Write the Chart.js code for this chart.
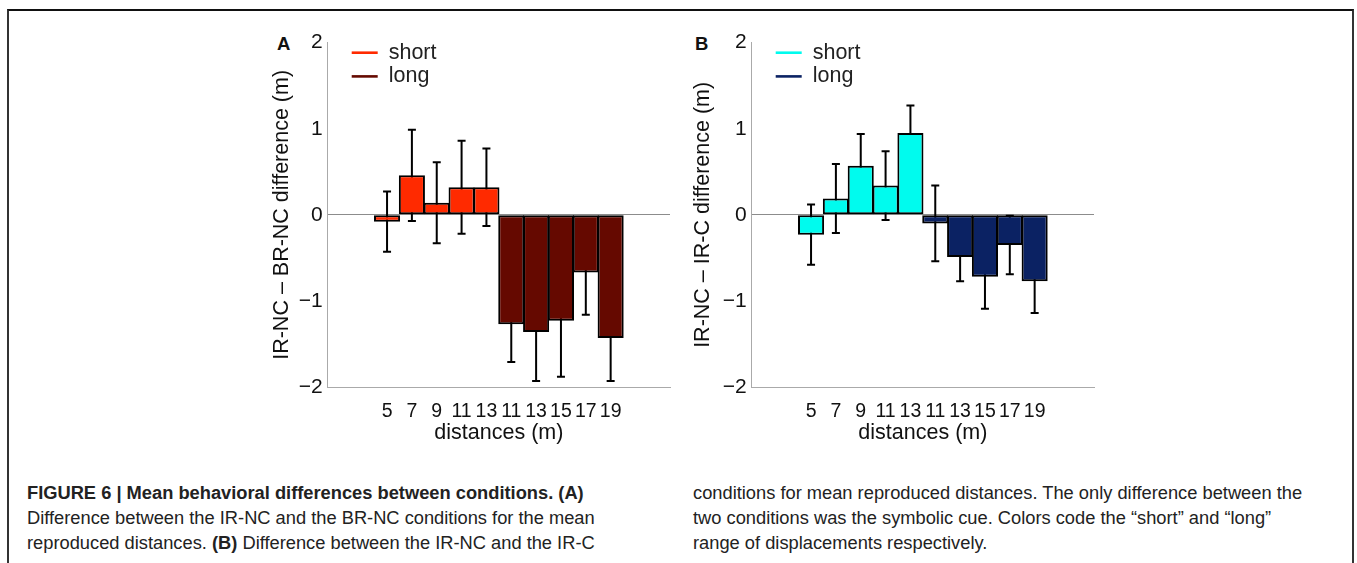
<!DOCTYPE html>
<html>
<head>
<meta charset="utf-8">
<script src="https://cdn.jsdelivr.net/npm/chart.js@4.4.1/dist/chart.umd.min.js"></script>
<style>
  html, body { margin: 0; padding: 0; background: #fff; }
  body { width: 1357px; height: 563px; position: relative; overflow: hidden; font-family: "Liberation Sans", Arial, sans-serif; }
  .frame { position: absolute; left: 7px; top: 9px; width: 1347px; height: 600px; border: 2px solid #333; border-top-color: #111; border-bottom: none; box-sizing: border-box; }
  .panel { position: absolute; top: 20px; width: 450px; height: 440px; }
  .tag { position: absolute; top: 34.6px; font-weight: bold; font-size: 18.5px; line-height: 18.5px; color: #111; }
  .caption { position: absolute; top: 479.6px; font-size: 18.3px; line-height: 25px; color: #222; white-space: nowrap; }
</style>
</head>
<body>
<div class="frame"></div>
<div class="tag" style="left:277px">A</div>
<div class="tag" style="left:695px">B</div>
<div class="panel" style="left:240px"><canvas id="chartA"></canvas></div>
<div class="panel" style="left:664px"><canvas id="chartB"></canvas></div>
<div class="caption" style="left:27px"><b>FIGURE 6 | Mean behavioral differences between conditions. (A)</b><br>Difference between the IR-NC and the BR-NC conditions for the mean<br>reproduced distances. <b>(B)</b> Difference between the IR-NC and the IR-C</div>
<div class="caption" style="left:693px">conditions for mean reproduced distances. The only difference between the<br>two conditions was the symbolic cue. Colors code the “short” and “long”<br>range of displacements respectively.</div>

<script>
// distances (m) shown under the bars
const shortDistances = ['5', '7', '9', '11', '13']
const longDistances = ['11', '13', '15', '17', '19']
const yTickLabels = ['\u22122', '\u22121', '0', '1', '2']

// panel A: IR-NC - BR-NC
const aShortMeans = [-0.08, 0.46, 0.14, 0.32, 0.32]
const aShortErrors = [0.35, 0.53, 0.47, 0.54, 0.45]
const aLongMeans = [-1.27, -1.36, -1.23, -0.67, -1.43]
const aLongErrors = [0.44, 0.57, 0.65, 0.49, 0.50]

// panel B: IR-NC - IR-C
const bShortMeans = [-0.23, 0.19, 0.57, 0.34, 0.95]
const bShortErrors = [0.35, 0.40, 0.37, 0.40, 0.32]
const bLongMeans = [-0.10, -0.49, -0.72, -0.35, -0.77]
const bLongErrors = [0.44, 0.28, 0.37, 0.34, 0.37]

const allDistances = shortDistances.concat(longDistances)
const FONT = '"Liberation Sans", Arial, sans-serif'
const FS = 21.5

// error bars go behind the bars, like the matlab figure
const errorBars = {
    id: 'errorBars',
    beforeDatasetsDraw(chart){
        const ctx = chart.ctx
        const yScale = chart.scales.y
        ctx.save()
        ctx.strokeStyle = '#000'
        ctx.lineWidth = 2
        chart.data.datasets.forEach((ds, di) => {
            chart.getDatasetMeta(di).data.forEach((bar, i) => {
                const v = ds.data[i].y
                const e = ds.errors[i]
                const top = yScale.getPixelForValue(v + e)
                const bot = yScale.getPixelForValue(v - e)
                ctx.beginPath()
                ctx.moveTo(bar.x, top); ctx.lineTo(bar.x, bot)
                ctx.moveTo(bar.x - 4, top); ctx.lineTo(bar.x + 4, top)
                ctx.moveTo(bar.x - 4, bot); ctx.lineTo(bar.x + 4, bot)
                ctx.stroke()
            })
        })
        ctx.restore()
    }
}

// small legend inside the axes, top left
const insideLegend = {
    id: 'insideLegend',
    afterDraw(chart){
        const {ctx, chartArea} = chart
        ctx.save()
        ctx.font = FS + 'px ' + FONT
        ctx.textBaseline = 'middle'
        chart.data.datasets.forEach((ds, i) => {
            const y = chartArea.top + 10 + i * 23.7
            ctx.strokeStyle = ds.legendColor
            ctx.lineWidth = 2.6
            ctx.beginPath()
            ctx.moveTo(chartArea.left + 24, y)
            ctx.lineTo(chartArea.left + 50, y)
            ctx.stroke()
            ctx.fillStyle = '#222'
            ctx.fillText(ds.label, chartArea.left + 61, y)
        })
        ctx.restore()
    }
}

function makePanel(id, yTitle, titlePad, shortMeans, shortErrors, longMeans, longErrors, shortColor, longColor){
    const context = document.getElementById(id).getContext('2d')
    return new Chart(context, {
        type: 'bar',
        data: {
            datasets: [
                {
                    label: 'short',
                    data: shortMeans.map((v, i) => ({x: i + 1, y: v})),
                    errors: shortErrors,
                    backgroundColor: shortColor,
                    legendColor: shortColor,
                },
                {
                    label: 'long',
                    data: longMeans.map((v, i) => ({x: i + 6, y: v})),
                    errors: longErrors,
                    backgroundColor: longColor,
                    legendColor: longColor,
                }
            ]
        },
        options: {
            responsive: true,
            maintainAspectRatio: false,
            animation: false,
            layout: { padding: { left: 0, right: 20, top: 22.7, bottom: 0 } },
            datasets: {
                bar: {
                    grouped: false,
                    barPercentage: 1.05,
                    categoryPercentage: 1,
                    borderColor: '#000',
                    borderWidth: 2,
                    borderSkipped: false,
                }
            },
            scales: {
                x: {
                    type: 'linear',
                    min: -0.7,
                    max: 11.7,
                    afterBuildTicks: (axis) => {
                        axis.ticks = allDistances.map((d, i) => ({value: i + 1}))
                    },
                    afterFit: (axis) => { axis.height = 73 },
                    grid: { display: false },
                    border: { color: '#aaa', width: 1 },
                    ticks: {
                        autoSkip: false,
                        maxRotation: 0,
                        padding: 4.6,
                        color: '#111',
                        font: { family: FONT, size: 19.5 },
                        callback: (value, index) => allDistances[index],
                    },
                    title: {
                        display: true,
                        text: 'distances (m)',
                        color: '#111',
                        font: { family: FONT, size: FS },
                        padding: { top: 0, bottom: 14.1 },
                    }
                },
                y: {
                    min: -2,
                    max: 2,
                    afterFit: (axis) => { axis.width = 87.7 },
                    grid: {
                        drawTicks: false,
                        color: (c) => c.tick && c.tick.value === 0 ? '#8c8c8c' : 'rgba(0,0,0,0)',
                        lineWidth: 1,
                    },
                    border: { color: '#aaa', width: 1 },
                    ticks: {
                        stepSize: 1,
                        padding: 5,
                        color: '#111',
                        font: { family: FONT, size: 21 },
                        callback: (value, index) => yTickLabels[index],
                    },
                    title: {
                        display: true,
                        text: yTitle,
                        color: '#111',
                        font: { family: FONT, size: FS },
                        padding: { top: titlePad, bottom: 0 },
                    }
                }
            },
            plugins: {
                legend: { display: false },
                tooltip: { enabled: false },
            }
        },
        plugins: [errorBars, insideLegend]
    })
}

makePanel('chartA', 'IR-NC \u2013 BR-NC difference (m)', 28.8,
    aShortMeans, aShortErrors, aLongMeans, aLongErrors, '#ff2a00', '#650900')
makePanel('chartB', 'IR-NC \u2013 IR-C difference (m)', 26.4,
    bShortMeans, bShortErrors, bLongMeans, bLongErrors, '#00fbee', '#0b2263')
</script>
</body>
</html>
